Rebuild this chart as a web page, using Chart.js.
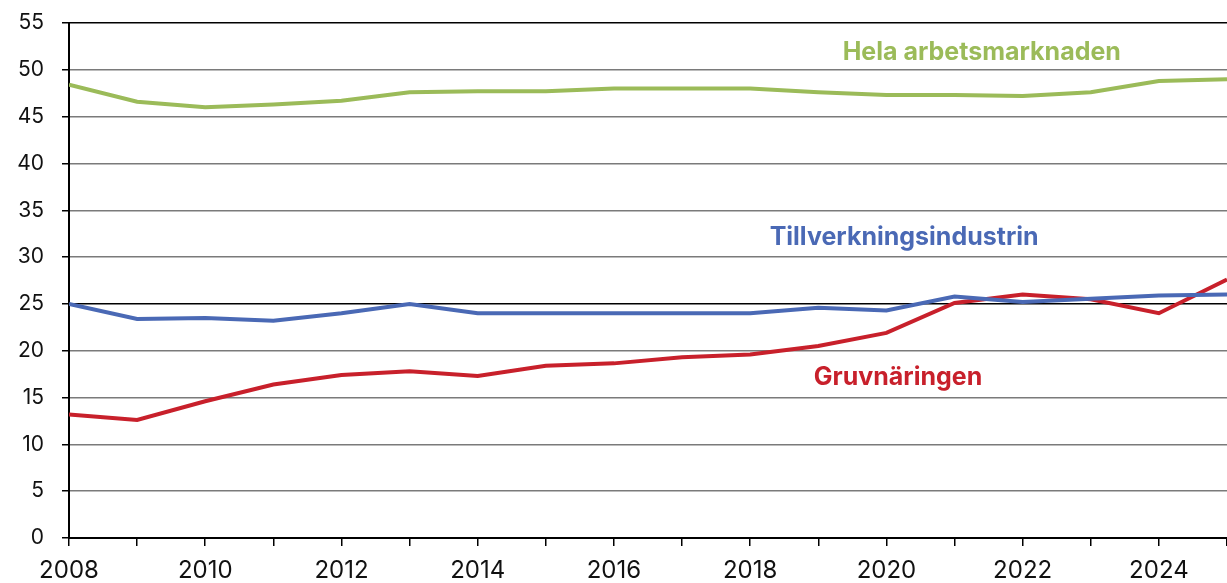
<!DOCTYPE html>
<html>
<head>
  <title>Andel kvinnor</title>
  <script src="https://cdn.jsdelivr.net/npm/chart.js"></script>
  <style>
    body { margin: 0; background: #fff; }
    #wrap { width: 1227px; height: 583px; }
  </style>
</head>
<body>
  <div id="wrap"><canvas id="chart" width="1227" height="583"></canvas></div>

  <script>
    // Data
    const years = [2008, 2009, 2010, 2011, 2012, 2013, 2014, 2015, 2016, 2017, 2018, 2019, 2020, 2021, 2022, 2023, 2024, 2025];
    const hela = [48.4, 46.6, 46.0, 46.3, 46.7, 47.6, 47.7, 47.7, 48.0, 48.0, 48.0, 47.6, 47.3, 47.3, 47.2, 47.6, 48.8, 49.0];
    const tillverkning = [25.0, 23.4, 23.5, 23.2, 24.0, 25.0, 24.0, 24.0, 24.0, 24.0, 24.0, 24.6, 24.3, 25.8, 25.2, 25.55, 25.9, 26.0];
    const gruv = [13.2, 12.6, 14.6, 16.4, 17.4, 17.8, 17.3, 18.4, 18.65, 19.3, 19.6, 20.5, 21.9, 25.1, 26.0, 25.5, 24.0, 27.6];
    const seriesLabels = ['Hela arbetsmarknaden', 'Tillverkningsindustrin', 'Gruvnäringen'];
    const seriesColors = ['#9bbb59', '#4a69b5', '#c8202b'];
    // where each series name sits (year, value)
    const labelPos = [[2021.4, 51.9], [2020.26, 32.1], [2020.17, 17.1]];

    const FONT = 'Inter, "DejaVu Sans", sans-serif';

    const toPoints = (vals) => vals.map((v, i) => ({ x: years[i], y: v }));

    // names of the series, written into the plot
    const seriesText = {
      id: 'seriesText',
      afterDatasetsDraw(chart) {
        const { ctx, scales: { x, y } } = chart;
        ctx.save();
        ctx.font = 'bold 25px Inter, sans-serif';
        ctx.textAlign = 'center';
        ctx.textBaseline = 'middle';
        seriesLabels.forEach((t, i) => {
          ctx.fillStyle = seriesColors[i];
          ctx.fillText(t, x.getPixelForValue(labelPos[i][0]), y.getPixelForValue(labelPos[i][1]));
        });
        ctx.restore();
      }
    };

    new Chart(document.getElementById('chart'), {
      type: 'line',
      data: {
        datasets: [
          { label: seriesLabels[0], data: toPoints(hela), borderColor: seriesColors[0], borderWidth: 4, pointRadius: 0, tension: 0 },
          { label: seriesLabels[1], data: toPoints(tillverkning), borderColor: seriesColors[1], borderWidth: 4, pointRadius: 0, tension: 0 },
          { label: seriesLabels[2], data: toPoints(gruv), borderColor: seriesColors[2], borderWidth: 4, pointRadius: 0, tension: 0 }
        ]
      },
      options: {
        responsive: false,
        animation: false,
        layout: { padding: { top: 23, right: 0, left: 0, bottom: 0 } },
        plugins: { legend: { display: false }, tooltip: { enabled: false } },
        scales: {
          x: {
            type: 'linear',
            min: 2008,
            max: 2025,
            afterFit: (s) => { s.height = 45; s.paddingLeft = 0; s.paddingRight = 0; },
            border: { color: '#000', width: 2 },
            grid: { drawOnChartArea: false, drawTicks: true, tickLength: 8, tickColor: '#000', lineWidth: 1.5 },
            ticks: {
              stepSize: 1,
              autoSkip: false,
              maxRotation: 0,
              padding: 10,
              color: '#111',
              font: { family: FONT, size: 24 },
              callback: (v) => (v % 2 === 0 && v < 2025 ? String(v) : '')
            }
          },
          y: {
            min: 0,
            max: 55,
            afterFit: (s) => { s.width = 69; s.paddingTop = 0; s.paddingBottom = 0; },
            border: { color: '#000', width: 2 },
            grid: {
              color: (c) => (c.tick && (c.tick.value === 25 || c.tick.value === 55) ? '#000' : '#7a7a7a'),
              lineWidth: 1.5,
              drawTicks: true,
              tickLength: 7,
              tickColor: '#000'
            },
            ticks: {
              stepSize: 5,
              padding: 18,
              color: '#111',
              font: { family: FONT, size: 21 }
            }
          }
        }
      },
      plugins: [seriesText]
    });
  </script>
</body>
</html>
